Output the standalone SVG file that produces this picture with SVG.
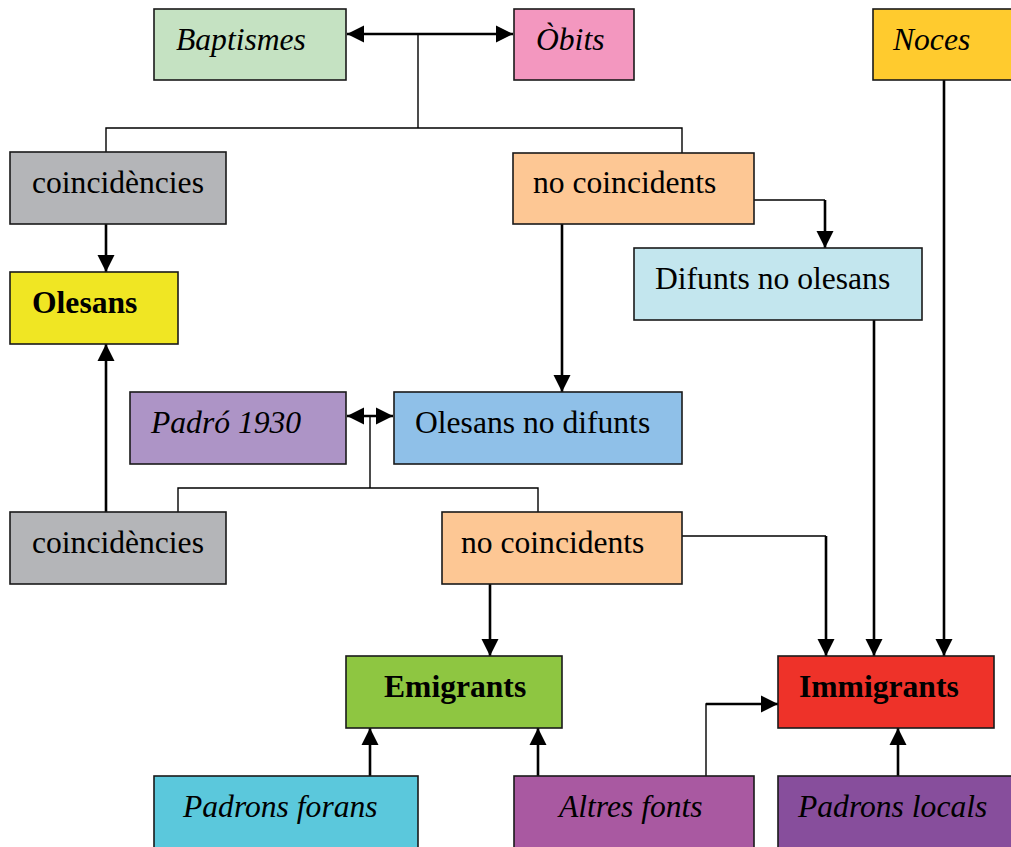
<svg xmlns="http://www.w3.org/2000/svg" width="1011" height="847" viewBox="0 0 1011 847">
<style>
rect{stroke:#1a1a1a;stroke-width:1.6}
text{font-family:"Liberation Serif","Times New Roman",serif;font-size:31.6px;fill:#000}
.i{font-style:italic}
.b{font-weight:bold}
.c{fill:none;stroke:#000}
.t{stroke-width:2.6}
.n{stroke-width:1.4}
</style>
<defs>
<marker id="ah" markerUnits="userSpaceOnUse" markerWidth="18" markerHeight="18" refX="17" refY="8.5" orient="auto-start-reverse" viewBox="0 0 18 17">
<path d="M0,0 L17,8.5 L0,17 z" fill="#000"/>
</marker>
</defs>
<rect width="1011" height="847" fill="#fff" style="stroke:none"/>
<g id="connectors">
<path class="c t" d="M347,34 H513" marker-start="url(#ah)" marker-end="url(#ah)"/>
<path class="c n" d="M418,34 V128 M106,152 V128 H682 V153"/>
<path class="c t" d="M106,224 V272" marker-end="url(#ah)"/>
<path class="c t" d="M562,224 V392" marker-end="url(#ah)"/>
<path class="c n" d="M754,200 H825"/>
<path class="c t" d="M825,200 V248" marker-end="url(#ah)"/>
<path class="c t" d="M874,320 V656" marker-end="url(#ah)"/>
<path class="c t" d="M944,80 V656" marker-end="url(#ah)"/>
<path class="c t" d="M347,416 H393" marker-start="url(#ah)" marker-end="url(#ah)"/>
<path class="c n" d="M370,416 V488 M178,512 V488 H538 V512"/>
<path class="c t" d="M106,512 V344" marker-end="url(#ah)"/>
<path class="c t" d="M490,584 V656" marker-end="url(#ah)"/>
<path class="c n" d="M682,536 H826"/>
<path class="c t" d="M826,536 V656" marker-end="url(#ah)"/>
<path class="c t" d="M370,776 V728" marker-end="url(#ah)"/>
<path class="c t" d="M538,776 V728" marker-end="url(#ah)"/>
<path class="c n" d="M706,776 V704 H710"/>
<path class="c t" d="M706,704 H778" marker-end="url(#ah)"/>
<path class="c t" d="M898,776 V728" marker-end="url(#ah)"/>
</g>
<g id="baptismes"><rect x="154" y="9" width="192" height="71" fill="#c5e2c2"/><text class="i" x="176" y="50">Baptismes</text></g>
<g id="obits"><rect x="514" y="9" width="120" height="71" fill="#f397bf"/><text class="i" x="536" y="50">Òbits</text></g>
<g id="noces"><rect x="873" y="9" width="150" height="71" fill="#ffcb2e"/><text class="i" x="893" y="50">Noces</text></g>
<g id="coincidencies1"><rect x="10" y="152" width="216" height="72" fill="#b4b5b8"/><text x="32" y="193">coincidències</text></g>
<g id="nocoincidents1"><rect x="513" y="153" width="241" height="71" fill="#fdc794"/><text x="533" y="193">no coincidents</text></g>
<g id="difunts"><rect x="634" y="248" width="288" height="72" fill="#c3e6ee"/><text x="655" y="289">Difunts no olesans</text></g>
<g id="olesans"><rect x="10" y="272" width="168" height="72" fill="#f0e623"/><text class="b" x="32" y="313">Olesans</text></g>
<g id="padro1930"><rect x="130" y="392" width="216" height="72" fill="#ad94c6"/><text class="i" x="151" y="433">Padró 1930</text></g>
<g id="olesansnodifunts"><rect x="394" y="392" width="288" height="72" fill="#8fc0e8"/><text x="415" y="433">Olesans no difunts</text></g>
<g id="coincidencies2"><rect x="10" y="512" width="216" height="72" fill="#b4b5b8"/><text x="32" y="553">coincidències</text></g>
<g id="nocoincidents2"><rect x="442" y="512" width="240" height="72" fill="#fdc794"/><text x="461" y="553">no coincidents</text></g>
<g id="emigrants"><rect x="346" y="656" width="216" height="72" fill="#8ec641"/><text class="b" x="384" y="697">Emigrants</text></g>
<g id="immigrants"><rect x="778" y="656" width="216" height="72" fill="#ee3229"/><text class="b" x="799" y="697">Immigrants</text></g>
<g id="padronsforans"><rect x="154" y="776" width="264" height="80" fill="#5bc8dc"/><text class="i" x="183" y="817">Padrons forans</text></g>
<g id="altresfonts"><rect x="514" y="776" width="240" height="80" fill="#a959a1"/><text class="i" x="559" y="817">Altres fonts</text></g>
<g id="padronslocals"><rect x="778" y="776" width="250" height="80" fill="#874e9c"/><text class="i" x="798" y="817">Padrons locals</text></g>
</svg>
